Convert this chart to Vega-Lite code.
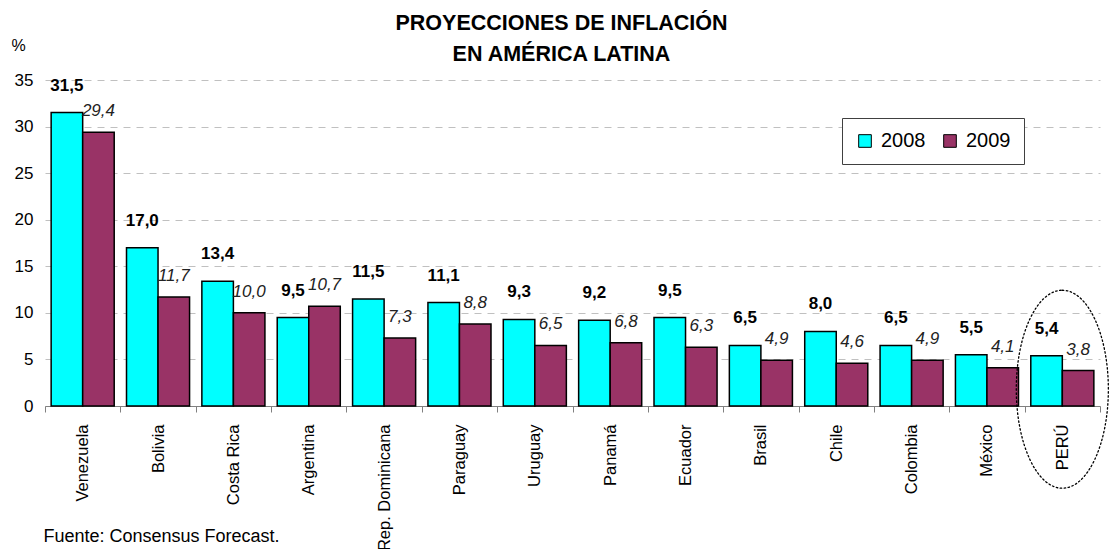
{
  "$schema": "https://vega.github.io/schema/vega-lite/v6.json",
  "width": 1055,
  "height": 326,
  "autosize": {"type": "none"},
  "padding": {"left": 45, "top": 80, "right": 10, "bottom": 143},
  "background": "white",
  "config": {
    "font": "Liberation Sans, Arial, sans-serif",
    "view": {"stroke": null},
    "locale": {"number": {"decimal": ",", "thousands": ".", "grouping": [3], "currency": ["", ""]}}
  },
  "title": {
    "text": ["PROYECCIONES DE INFLACIÓN", "EN AMÉRICA LATINA"],
    "font": "Liberation Sans, Arial, sans-serif",
    "fontSize": 21.5,
    "fontWeight": "bold",
    "lineHeight": 31,
    "anchor": "middle",
    "baseline": "bottom",
    "dx": -11,
    "offset": -50,
    "color": "black"
  },
  "data": {
    "values": [
      {"country": "Venezuela", "year": "2008", "value": 31.5},
      {"country": "Venezuela", "year": "2009", "value": 29.4},
      {"country": "Bolivia", "year": "2008", "value": 17.0},
      {"country": "Bolivia", "year": "2009", "value": 11.7},
      {"country": "Costa Rica", "year": "2008", "value": 13.4},
      {"country": "Costa Rica", "year": "2009", "value": 10.0},
      {"country": "Argentina", "year": "2008", "value": 9.5},
      {"country": "Argentina", "year": "2009", "value": 10.7},
      {"country": "Rep. Dominicana", "year": "2008", "value": 11.5},
      {"country": "Rep. Dominicana", "year": "2009", "value": 7.3},
      {"country": "Paraguay", "year": "2008", "value": 11.1},
      {"country": "Paraguay", "year": "2009", "value": 8.8},
      {"country": "Uruguay", "year": "2008", "value": 9.3},
      {"country": "Uruguay", "year": "2009", "value": 6.5},
      {"country": "Panamá", "year": "2008", "value": 9.2},
      {"country": "Panamá", "year": "2009", "value": 6.8},
      {"country": "Ecuador", "year": "2008", "value": 9.5},
      {"country": "Ecuador", "year": "2009", "value": 6.3},
      {"country": "Brasil", "year": "2008", "value": 6.5},
      {"country": "Brasil", "year": "2009", "value": 4.9},
      {"country": "Chile", "year": "2008", "value": 8.0},
      {"country": "Chile", "year": "2009", "value": 4.6},
      {"country": "Colombia", "year": "2008", "value": 6.5},
      {"country": "Colombia", "year": "2009", "value": 4.9},
      {"country": "México", "year": "2008", "value": 5.5},
      {"country": "México", "year": "2009", "value": 4.1},
      {"country": "PERÚ", "year": "2008", "value": 5.4},
      {"country": "PERÚ", "year": "2009", "value": 3.8}
    ]
  },
  "layer": [
    {
      "mark": {"type": "bar", "stroke": "black", "strokeWidth": 1.5},
      "encoding": {
        "x": {
          "field": "country",
          "type": "nominal",
          "sort": null,
          "scale": {
            "domain": ["Venezuela", "Bolivia", "Costa Rica", "Argentina", "Rep. Dominicana", "Paraguay", "Uruguay", "Panamá", "Ecuador", "Brasil", "Chile", "Colombia", "México", "PERÚ"],
            "paddingInner": 0,
            "paddingOuter": 0
          },
          "axis": {
            "title": "Fuente: Consensus Forecast.",
            "titleX": -2,
            "titleY": 135,
            "titleAlign": "left",
            "titleAnchor": "start",
            "titleBaseline": "alphabetic",
            "titleAngle": 0,
            "titleFontSize": 18,
            "titleFontWeight": "normal",
            "titleColor": "black",
            "labelAngle": -90,
            "labelAlign": "right",
            "labelBaseline": "middle",
            "labelFontSize": 16.5,
            "labelColor": "black",
            "labelPadding": 12,
            "tickBand": "extent",
            "tickSize": 6,
            "tickColor": "#808080",
            "domainColor": "#808080",
            "grid": false
          }
        },
        "xOffset": {
          "field": "year",
          "type": "nominal",
          "scale": {"paddingInner": 0, "paddingOuter": 0.195}
        },
        "y": {
          "field": "value",
          "type": "quantitative",
          "scale": {"domain": [0, 35], "nice": false},
          "axis": {
            "title": "%",
            "titleAngle": 0,
            "titleX": -27,
            "titleY": -30,
            "titleAlign": "center",
            "titleBaseline": "alphabetic",
            "titleFontSize": 16,
            "titleFontWeight": "normal",
            "titleColor": "black",
            "values": [0, 5, 10, 15, 20, 25, 30, 35],
            "labelFontSize": 17,
            "labelColor": "black",
            "labelPadding": 12,
            "ticks": false,
            "domain": false,
            "grid": true,
            "gridColor": "#c0c0c0",
            "gridDash": [7, 6],
            "gridWidth": 1
          }
        },
        "color": {
          "field": "year",
          "type": "nominal",
          "scale": {"domain": ["2008", "2009"], "range": ["#00FFFF", "#993366"]},
          "legend": {
            "title": null,
            "orient": "none",
            "legendX": 797,
            "legendY": 38,
            "direction": "horizontal",
            "padding": 13,
            "strokeColor": "#404040",
            "fillColor": "white",
            "symbolType": "square",
            "symbolSize": 160,
            "symbolStrokeColor": "black",
            "symbolStrokeWidth": 1,
            "symbolOpacity": 1,
            "labelFontSize": 20,
            "labelColor": "black",
            "labelOffset": 6,
            "columnPadding": 14
          }
        }
      }
    },
    {
      "transform": [{"filter": "datum.year === '2008'"}],
      "mark": {"type": "text", "fontWeight": "bold", "fontSize": 17, "baseline": "middle", "align": "center", "dy": -27, "color": "black"},
      "encoding": {
        "x": {"field": "country", "type": "nominal", "sort": null},
        "xOffset": {"field": "year", "type": "nominal"},
        "y": {"field": "value", "type": "quantitative"},
        "text": {"field": "value", "type": "quantitative", "format": ".1f"}
      }
    },
    {
      "transform": [{"filter": "datum.year === '2009'"}],
      "mark": {"type": "text", "fontStyle": "italic", "fontSize": 17, "baseline": "middle", "align": "center", "dy": -21, "color": "#222222"},
      "encoding": {
        "x": {"field": "country", "type": "nominal", "sort": null},
        "xOffset": {"field": "year", "type": "nominal"},
        "y": {"field": "value", "type": "quantitative"},
        "text": {"field": "value", "type": "quantitative", "format": ".1f"}
      }
    },
    {
      "data": {"values": [{}]},
      "mark": {
        "type": "point",
        "shape": "M 0 -1 C 0.257 -1 0.465 -0.5523 0.465 0 C 0.465 0.5523 0.257 1 0 1 C -0.257 1 -0.465 0.5523 -0.465 0 C -0.465 -0.5523 -0.257 -1 0 -1 Z",
        "size": 39204,
        "filled": false,
        "opacity": 1,
        "stroke": "black",
        "strokeWidth": 1.3,
        "strokeDash": [1.5, 2.5],
        "strokeCap": "round"
      },
      "encoding": {
        "x": {"datum": "PERÚ"},
        "y": {"datum": 1.8}
      }
    }
  ]
}
